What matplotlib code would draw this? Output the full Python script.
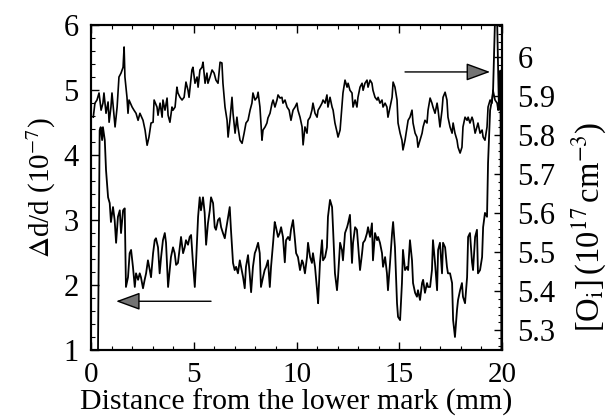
import matplotlib
matplotlib.use('Agg')
import matplotlib.pyplot as plt
from matplotlib.ticker import MultipleLocator

plt.rcParams['font.family'] = ['Liberation Serif', 'DejaVu Serif']
plt.rcParams['mathtext.fontset'] = 'stix'

# ── [O_i] trace (right axis, 10^17 cm^-3) ─────────────────────────────────────
x_oi = [0.11, 0.19, 0.29, 0.39, 0.49, 0.58, 0.63, 0.73, 0.83, 0.88, 0.97, 1.02,
        1.17, 1.27, 1.36, 1.46, 1.56, 1.61, 1.65, 1.75, 1.80, 1.85, 2.00, 2.09,
        2.19, 2.29, 2.38, 2.48, 2.53, 2.63, 2.73, 2.82, 2.92, 3.02, 3.07, 3.21,
        3.26, 3.36, 3.46, 3.50, 3.60, 3.70, 3.75, 3.84, 3.94, 3.99, 4.09, 4.18,
        4.23, 4.33, 4.43, 4.53, 4.62, 4.72, 4.77, 4.91, 4.96, 5.06, 5.16, 5.21,
        5.30, 5.40, 5.45, 5.55, 5.64, 5.69, 5.79, 5.89, 5.99, 6.08, 6.18, 6.28,
        6.37, 6.42, 6.52, 6.62, 6.67, 6.76, 6.86, 6.91, 7.01, 7.10, 7.15, 7.25,
        7.35, 7.45, 7.54, 7.64, 7.74, 7.83, 7.88, 7.98, 8.08, 8.13, 8.22, 8.32,
        8.37, 8.47, 8.56, 8.61, 8.71, 8.81, 8.86, 8.95, 9.05, 9.10, 9.20, 9.29,
        9.34, 9.44, 9.54, 9.64, 9.73, 9.83, 9.93, 10.02, 10.07, 10.17, 10.27,
        10.32, 10.41, 10.51, 10.56, 10.66, 10.75, 10.80, 10.90, 11.00, 11.05,
        11.14, 11.24, 11.29, 11.39, 11.48, 11.53, 11.63, 11.73, 11.78, 11.87,
        11.97, 12.02, 12.12, 12.21, 12.26, 12.36, 12.46, 12.51, 12.60, 12.70,
        12.75, 12.85, 12.94, 12.99, 13.09, 13.19, 13.24, 13.33, 13.43, 13.48,
        13.58, 13.67, 13.72, 13.82, 13.92, 13.97, 14.06, 14.16, 14.21, 14.31,
        14.40, 14.45, 14.55, 14.65, 14.70, 14.79, 14.89, 14.94, 15.04, 15.13,
        15.18, 15.28, 15.38, 15.43, 15.52, 15.62, 15.67, 15.77, 15.86, 15.91,
        16.01, 16.11, 16.16, 16.25, 16.35, 16.40, 16.50, 16.59, 16.64, 16.74,
        16.84, 16.89, 16.98, 17.08, 17.13, 17.23, 17.32, 17.37, 17.47, 17.57,
        17.62, 17.71, 17.81, 17.86, 17.96, 18.05, 18.10, 18.20, 18.30, 18.35,
        18.44, 18.54, 18.59, 18.69, 18.78, 18.83, 18.93, 19.03, 19.08, 19.17,
        19.27, 19.32, 19.42, 19.51, 19.56, 19.66, 19.76, 19.81, 19.90, 20.00]
oi = [5.846, 5.882, 5.890, 5.908, 5.864, 5.882, 5.908, 5.856, 5.885, 5.833,
      5.872, 5.908, 5.821, 5.872, 5.949, 5.959, 5.974, 6.026, 5.949, 5.897,
      5.856, 5.890, 5.872, 5.864, 5.856, 5.838, 5.856, 5.844, 5.838, 5.813,
      5.774, 5.795, 5.831, 5.833, 5.890, 5.872, 5.851, 5.882, 5.846, 5.890,
      5.864, 5.895, 5.851, 5.833, 5.872, 5.864, 5.872, 5.923, 5.908, 5.897,
      5.890, 5.897, 5.936, 5.915, 5.897, 5.967, 5.974, 5.933, 5.949, 5.923,
      5.967, 5.974, 5.987, 5.933, 5.959, 5.933, 5.949, 5.967, 5.959, 5.941,
      5.933, 5.987, 5.985, 5.933, 5.872, 5.838, 5.795, 5.838, 5.897, 5.856,
      5.805, 5.846, 5.821, 5.787, 5.779, 5.805, 5.831, 5.838, 5.864, 5.882,
      5.908, 5.890, 5.897, 5.910, 5.872, 5.787, 5.813, 5.821, 5.831, 5.844,
      5.856, 5.882, 5.890, 5.872, 5.890, 5.903, 5.895, 5.897, 5.882, 5.890,
      5.872, 5.864, 5.838, 5.864, 5.872, 5.882, 5.864, 5.846, 5.821, 5.775,
      5.821, 5.805, 5.838, 5.846, 5.864, 5.882, 5.856, 5.846, 5.864, 5.872,
      5.882, 5.890, 5.882, 5.903, 5.872, 5.897, 5.872, 5.864, 5.831, 5.808,
      5.795, 5.813, 5.872, 5.908, 5.941, 5.923, 5.933, 5.915, 5.908, 5.872,
      5.890, 5.872, 5.897, 5.923, 5.933, 5.915, 5.933, 5.941, 5.923, 5.941,
      5.933, 5.915, 5.897, 5.890, 5.897, 5.882, 5.890, 5.872, 5.882, 5.872,
      5.846, 5.872, 5.897, 5.936, 5.923, 5.890, 5.831, 5.805, 5.787, 5.762,
      5.787, 5.821, 5.838, 5.846, 5.864, 5.831, 5.805, 5.795, 5.769, 5.787,
      5.805, 5.821, 5.838, 5.831, 5.864, 5.895, 5.882, 5.872, 5.856, 5.882,
      5.864, 5.821, 5.864, 5.897, 5.910, 5.890, 5.846, 5.821, 5.805, 5.831,
      5.805, 5.787, 5.769, 5.754, 5.769, 5.821, 5.846, 5.838, 5.846, 5.831,
      5.846, 5.838, 5.805, 5.821, 5.831, 5.805, 5.813, 5.795, 5.787, 5.821,
      5.872, 5.890, 5.882, 5.915, 5.890, 5.882, 5.864, 5.923, 5.959]

# ── Δd/d trace (left axis, 10^-7) ─────────────────────────────────────────────
x_dd = [0.34, 0.42, 0.47, 0.54, 0.58, 0.67, 0.73, 0.83, 0.91, 0.97, 1.07, 1.15,
        1.22, 1.31, 1.40, 1.46, 1.56, 1.64, 1.70, 1.80, 1.88, 1.95, 2.04, 2.13,
        2.19, 2.29, 2.37, 2.43, 2.53, 2.61, 2.68, 2.77, 2.86, 2.92, 3.02, 3.10,
        3.16, 3.26, 3.34, 3.41, 3.50, 3.59, 3.65, 3.75, 3.83, 3.89, 3.99, 4.07,
        4.14, 4.23, 4.32, 4.38, 4.48, 4.56, 4.62, 4.72, 4.80, 4.87, 4.96, 5.05,
        5.11, 5.21, 5.29, 5.35, 5.45, 5.53, 5.60, 5.69, 5.78, 5.84, 5.94, 6.02,
        6.08, 6.18, 6.26, 6.33, 6.42, 6.51, 6.57, 6.67, 6.75, 6.81, 6.91, 6.99,
        7.06, 7.15, 7.24, 7.30, 7.40, 7.48, 7.54, 7.64, 7.72, 7.79, 7.88, 7.97,
        8.03, 8.13, 8.21, 8.27, 8.37, 8.45, 8.52, 8.61, 8.70, 8.76, 8.86, 8.94,
        9.00, 9.10, 9.18, 9.25, 9.34, 9.43, 9.49, 9.59, 9.67, 9.73, 9.83, 9.91,
        9.98, 10.07, 10.17, 10.27, 10.32, 10.41, 10.51, 10.56, 10.66, 10.75,
        10.80, 10.90, 11.00, 11.05, 11.14, 11.24, 11.29, 11.39, 11.48, 11.53,
        11.63, 11.73, 11.78, 11.87, 11.97, 12.02, 12.12, 12.21, 12.26, 12.36,
        12.46, 12.51, 12.60, 12.70, 12.75, 12.85, 12.94, 12.99, 13.09, 13.19,
        13.24, 13.33, 13.43, 13.48, 13.58, 13.67, 13.72, 13.82, 13.92, 13.97,
        14.06, 14.16, 14.21, 14.31, 14.40, 14.45, 14.55, 14.65, 14.70, 14.79,
        14.89, 14.94, 15.04, 15.13, 15.18, 15.28, 15.38, 15.43, 15.52, 15.62,
        15.67, 15.77, 15.86, 15.91, 16.01, 16.11, 16.16, 16.25, 16.35, 16.40,
        16.50, 16.59, 16.64, 16.74, 16.84, 16.89, 16.98, 17.08, 17.13, 17.23,
        17.32, 17.37, 17.47, 17.57, 17.62, 17.71, 17.81, 17.86, 17.96, 18.05,
        18.10, 18.20, 18.30, 18.35, 18.44, 18.54, 18.59, 18.69, 18.78, 18.83,
        18.93, 19.03, 19.08, 19.17, 19.27, 19.32, 19.42, 19.51, 19.56, 19.66,
        19.76, 19.85, 19.92, 19.97]
dd = [1.00, 4.38, 4.43, 4.23, 4.43, 4.23, 3.77, 3.35, 3.26, 2.97, 3.20, 3.00,
      2.65, 3.05, 3.15, 2.80, 3.15, 3.18, 1.97, 2.12, 2.49, 2.54, 2.28, 1.97,
      2.18, 2.08, 2.18, 2.12, 1.95, 2.08, 2.18, 2.38, 2.23, 2.12, 2.49, 2.69,
      2.72, 2.58, 2.18, 2.43, 2.69, 2.80, 2.65, 1.97, 2.23, 2.43, 2.58, 2.49,
      2.31, 2.34, 2.58, 2.74, 2.49, 2.58, 2.69, 2.62, 2.74, 2.77, 2.34, 1.97,
      2.34, 3.05, 3.35, 3.15, 3.35, 3.11, 2.62, 2.95, 3.15, 3.35, 3.26, 2.89,
      2.85, 3.00, 3.03, 2.89, 2.80, 2.72, 2.85, 3.05, 3.20, 2.85, 2.34, 2.23,
      2.28, 2.18, 2.38, 2.28, 2.12, 1.95, 2.28, 2.46, 2.18, 1.89, 2.28, 2.49,
      2.54, 2.65, 2.49, 1.97, 2.12, 2.23, 2.28, 2.38, 1.97, 2.28, 2.65, 2.97,
      2.89, 2.74, 2.80, 2.89, 2.74, 2.35, 2.69, 2.74, 2.69, 2.85, 3.00, 2.74,
      2.49, 2.43, 2.23, 2.38, 2.34, 2.18, 2.43, 2.65, 2.43, 2.34,
      2.49, 2.28, 1.92, 1.72, 2.34, 2.69, 2.38, 2.43, 2.58, 3.05,
      3.31, 3.20, 2.85, 2.18, 1.92, 2.12, 2.65, 2.54, 2.38, 2.80,
      2.89, 2.95, 3.08, 2.34, 2.65, 2.89, 2.85, 2.65, 2.23, 2.49,
      2.65, 2.69, 2.80, 2.89, 2.74, 2.95, 2.38, 2.80, 2.69, 2.74,
      2.65, 2.49, 2.28, 2.43, 2.18, 1.92, 2.34, 2.80, 2.97, 2.58,
      1.72, 1.51, 1.46, 2.03, 2.54, 2.23, 2.28, 2.23, 2.69, 2.38,
      2.03, 1.88, 1.82, 1.92, 1.77, 2.03, 2.08, 1.88, 2.03, 1.97,
      1.97, 2.23, 2.69, 2.34, 1.92, 2.54, 2.65, 2.18, 2.65, 2.58,
      2.28, 2.18, 2.18, 2.03, 1.46, 1.20, 1.62, 1.77, 1.92, 2.03,
      1.82, 1.72, 2.12, 2.74, 2.80, 2.35, 2.23, 2.74, 2.85, 2.18,
      2.23, 2.43, 2.89, 3.11, 3.05, 3.88, 4.69, 4.85, 4.95, 6.10,
      6.10, 4.70, 5.30, 1.00]

x_ticks = [0, 5, 10, 15, 20]
dd_ticks = [1, 2, 3, 4, 5, 6]
oi_ticks = [5.3, 5.4, 5.5, 5.6, 5.7, 5.8, 5.9, 6.0]
oi_tick_labels = ['5.3', '5.4', '5.5', '5.6', '5.7', '5.8', '5.9', '6']

fig = plt.figure(figsize=(6.08, 4.17), dpi=100)
ax = fig.add_axes([0.1497, 0.1607, 0.676, 0.779])
ax2 = ax.twinx()

ax.plot(x_dd, dd, color='black', lw=1.3)
ax2.plot(x_oi, oi, color='black', lw=1.2)

ax.set_xlim(0, 20)
ax.set_ylim(1, 6)
ax2.set_ylim(5.249, 6.082)

ax.set_xticks(x_ticks)
ax.set_yticks(dd_ticks)
ax.xaxis.set_minor_locator(MultipleLocator(1))
ax.yaxis.set_minor_locator(MultipleLocator(0.2))
ax2.set_yticks(oi_ticks)
ax2.set_yticklabels(oi_tick_labels)
ax2.yaxis.set_minor_locator(MultipleLocator(0.02))

ax.tick_params(which='both', direction='in', top=True, right=False)
ax.tick_params(axis='x', labelsize=21, pad=9)
ax.tick_params(axis='y', labelsize=22, pad=9)
ax.tick_params(which='major', length=6, width=1)
ax.tick_params(which='minor', length=3, width=0.8)
ax2.tick_params(which='both', direction='in', labelsize=22, pad=11)
ax2.tick_params(which='major', length=6, width=1)
ax2.tick_params(which='minor', length=3, width=0.8)
for sp in ax.spines.values():
    sp.set_linewidth(1.5)
for sp in ax2.spines.values():
    sp.set_linewidth(1.5)

ax.set_xlabel('Distance from the lower mark (mm)', fontsize=21.5, labelpad=0)
ax.set_ylabel(r'$\Delta$d/d (10$^{-7}$)', fontsize=21, labelpad=4)
ax2.set_ylabel(r'[O$_{\rm i}$]$\,$(10$^{17}$$\,$cm$^{-3}$)', fontsize=23.5)
ax2.yaxis.set_label_coords(1.165, 0.38)

# arrows pointing to the axis each trace belongs to
head = '-|>,head_length=1.5,head_width=0.55'
ax.annotate('', xy=(1.22, 1.75), xytext=(5.84, 1.75),
            arrowprops=dict(arrowstyle=head, lw=1.0, edgecolor='black',
                            facecolor='0.45', shrinkA=0, shrinkB=0))
ax2.annotate('', xy=(19.42, 5.962), xytext=(15.28, 5.962),
             arrowprops=dict(arrowstyle=head, lw=1.0, edgecolor='black',
                             facecolor='0.45', shrinkA=0, shrinkB=0))

fig.savefig('out.png', dpi=100)
